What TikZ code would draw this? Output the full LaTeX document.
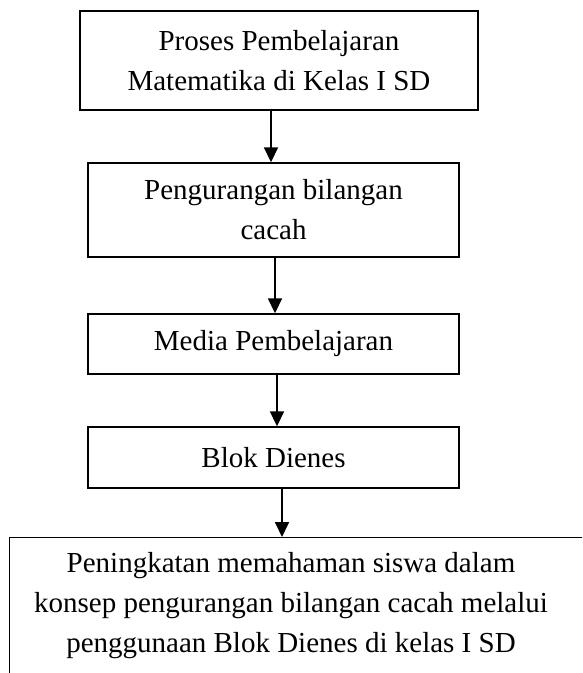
\documentclass[tikz,border=0pt]{standalone}
\usepackage{fontspec}
\setmainfont{Liberation Serif}
\usetikzlibrary{arrows.meta}
\tikzset{
	kotak/.style={draw=black,line width=1.4pt,align=center,inner sep=0pt,font=\fontsize{29}{40}\selectfont},
	alur/.style={line width=1.8pt,-{Triangle[width=14pt,length=15pt]}}
}
\begin{document}
\begin{tikzpicture}[x=1pt,y=-1pt]
		\useasboundingbox (0,0) rectangle (582,673);
		\clip (0,0) rectangle (582,673);
		\node[kotak,minimum width=398pt,minimum height=99pt] (proses) at (279,60.5) {Proses Pembelajaran\\Matematika di Kelas I SD};
		\node[kotak,minimum width=371pt,minimum height=94pt] (kurang) at (273.5,210) {Pengurangan bilangan\\cacah};
		\node[kotak,minimum width=371pt,minimum height=60pt] (media) at (273.5,344) {Media Pembelajaran};
		\node[kotak,minimum width=371pt,minimum height=61pt] (blok) at (273.5,457.5) {Blok Dienes};
		\node[kotak,minimum width=700pt,minimum height=200pt,anchor=north west] (hasil) at (9,537) {};
		\node[align=center,font=\fontsize{29}{40}\selectfont] (hasilteks) at (291,606) {Peningkatan memahaman siswa dalam\\konsep pengurangan bilangan cacah melalui\\penggunaan Blok Dienes di kelas I SD};
		\draw[alur] ([xshift=-8pt]proses.south) -- ([xshift=-2.5pt]kurang.north);
		\draw[alur] ([xshift=1.5pt]kurang.south) -- ([xshift=1.5pt]media.north);
		\draw[alur] ([xshift=3.5pt]media.south) -- ([xshift=3.5pt]blok.north);
		\draw[alur] ([xshift=8.5pt]blok.south) -- ([xshift=8.5pt]blok.south |- hasil.north);
	\end{tikzpicture}
\end{document}
